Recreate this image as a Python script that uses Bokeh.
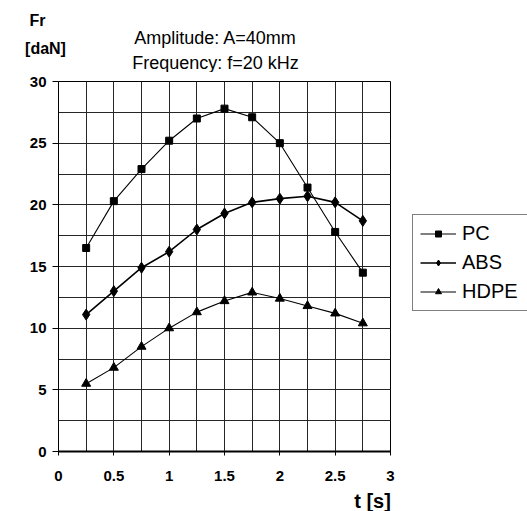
from bokeh.plotting import figure
from bokeh.models import (Range1d, SingleIntervalTicker, Label, Legend, LegendItem)
from bokeh.layouts import column, row
from bokeh.embed import file_html
from bokeh.resources import INLINE

# ---- data ----
t = [0.25, 0.5, 0.75, 1.0, 1.25, 1.5, 1.75, 2.0, 2.25, 2.5, 2.75]
pc = [16.5, 20.3, 22.9, 25.2, 27.0, 27.8, 27.1, 25.0, 21.4, 17.8, 14.5]
abs_ = [11.1, 13.0, 14.9, 16.2, 18.0, 19.3, 20.2, 20.5, 20.7, 20.2, 18.7]
hdpe = [5.5, 6.8, 8.5, 10.0, 11.3, 12.2, 12.9, 12.4, 11.8, 11.2, 10.4]
series_names = ["PC", "ABS", "HDPE"]
markers = ["square", "diamond", "triangle"]
marker_sizes = [7, 11, 9]
line_widths = [1.1, 1.6, 1.1]
title_lines = ["Amplitude: A=40mm", "Frequency: f=20 kHz"]
y_title = ["Fr", "[daN]"]
x_title = "t [s]"

FONT = "Liberation Sans"
HEAD_H = 72


def blank(w, h, xr=(0, 1), yr=(0, 1)):
    f = figure(width=w, height=h, output_backend="svg", toolbar_location=None,
               x_axis_location=None, y_axis_location=None,
               x_range=Range1d(*xr), y_range=Range1d(*yr),
               min_border=0, min_border_left=0, min_border_right=0,
               min_border_top=0, min_border_bottom=0)
    f.outline_line_color = None
    f.grid.visible = False
    f.background_fill_color = "white"
    f.border_fill_color = "white"
    return f


def lab(f, text, x, y, size, bold=True):
    f.add_layout(Label(x=x, y=y, x_units="screen", y_units="screen", text=text,
                       text_font=FONT, text_font_size=size,
                       text_font_style="bold" if bold else "normal",
                       text_align="center", text_baseline="middle",
                       text_color="black"))


# ---- header ----
header = blank(527, HEAD_H)
lab(header, y_title[0], 37, HEAD_H - 20, "16px")
lab(header, y_title[1], 45, HEAD_H - 48, "16px")
lab(header, title_lines[0], 215, HEAD_H - 37, "18px", bold=False)
lab(header, title_lines[1], 215, HEAD_H - 62, "18px", bold=False)

# ---- main chart ----
p = figure(width=412, height=488 - HEAD_H, output_backend="svg", toolbar_location=None,
           x_range=Range1d(0, 3), y_range=Range1d(0, 30),
           min_border_left=58, min_border_right=22, min_border_top=81 - HEAD_H,
           min_border_bottom=37)
p.background_fill_color = "white"
p.border_fill_color = "white"
p.outline_line_color = "black"
p.outline_line_width = 1

xt = SingleIntervalTicker(interval=0.5, num_minor_ticks=2)
yt = SingleIntervalTicker(interval=5, num_minor_ticks=2)
p.xaxis.ticker = xt
p.yaxis.ticker = yt
p.xgrid.ticker = xt
p.ygrid.ticker = yt
for g in (p.xgrid, p.ygrid):
    g.grid_line_color = "#262626"
    g.grid_line_width = 1
    g.minor_grid_line_color = "#262626"
    g.minor_grid_line_width = 1

for ax in (p.xaxis, p.yaxis):
    ax.major_label_text_font = FONT
    ax.major_label_text_font_style = "bold"
    ax.major_label_text_font_size = "15px"
    ax.major_label_text_color = "black"
    ax.minor_tick_line_color = None
    ax.major_tick_in = 0
    ax.major_tick_line_color = "black"
    ax.axis_line_color = "black"

p.xaxis.major_tick_out = 4
p.xaxis.major_label_standoff = 15
p.xaxis.axis_line_width = 2
p.yaxis.major_tick_out = 6
p.yaxis.major_label_standoff = 6
p.xaxis.major_label_overrides = {0: "0", 0.5: "0.5", 1: "1", 1.5: "1.5", 2: "2", 2.5: "2.5", 3: "3"}

for vals, mk, ms, lw in zip([pc, abs_, hdpe], markers, marker_sizes, line_widths):
    p.line(t, vals, line_color="black", line_width=lw)
    p.scatter(t, vals, marker=mk, size=ms, color="black")

# ---- legend panel (its ranges keep the series out of view; only the key shows) ----
leg = blank(115, 488 - HEAD_H, xr=(-2, -1), yr=(-2, -1))
items = []
for name, vals, mk, ms, lw in zip(series_names, [pc, abs_, hdpe], markers, marker_sizes, line_widths):
    rl = leg.line(t, vals, line_color="black", line_width=lw)
    rm = leg.scatter(t, vals, marker=mk, size=ms, color="black")
    items.append(LegendItem(label=name, renderers=[rl, rm]))
legend = Legend(items=items, location=(0, 140))
legend.label_text_font = FONT
legend.label_text_font_size = "20px"
legend.label_text_color = "black"
legend.border_line_color = "black"
legend.border_line_width = 1
legend.background_fill_color = "white"
legend.background_fill_alpha = 1
legend.padding = 7
legend.spacing = 6
legend.glyph_width = 36
legend.glyph_height = 15
legend.label_height = 23
legend.label_width = 100
legend.label_standoff = 6
legend.margin = 0
leg.add_layout(legend)

# ---- footer ----
footer = blank(527, 23)
lab(footer, x_title, 372, 11, "20px")

layout = column(header, row(p, leg), footer)
open("out.html", "w").write(file_html(layout, INLINE))
